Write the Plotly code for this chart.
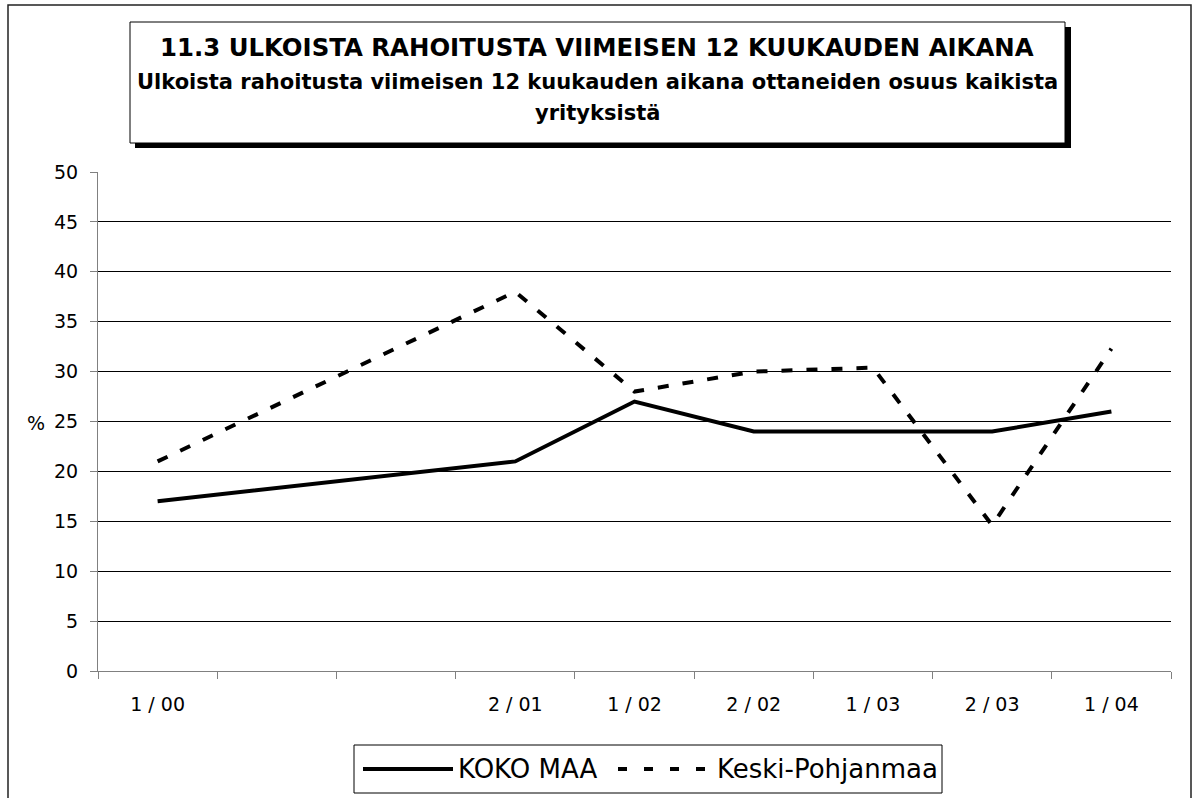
import plotly.graph_objects as go

# ---- data ----
categories = ["1 / 00", "", "", "2 / 01", "1 / 02", "2 / 02", "1 / 03", "2 / 03", "1 / 04"]
koko_maa = [17, None, None, 21, 27, 24, 24, 24, 26]
keski_pohjanmaa = [21, None, None, 38, 28, 30, 30.4, 14.6, 32.3]
series_names = ["KOKO MAA", "Keski-Pohjanmaa"]
title_lines = [
    "11.3 ULKOISTA RAHOITUSTA VIIMEISEN 12 KUUKAUDEN AIKANA",
    "Ulkoista rahoitusta viimeisen 12 kuukauden aikana ottaneiden osuus kaikista",
    "yrityksistä",
]
y_label = "%"

# ---- layout geometry (pixels) ----
W, H = 1194, 798
PL, PR, PT, PB = 98, 1171, 172, 671
FONT = "DejaVu Sans"


def px(x):
    return (x - PL) / (PR - PL)


def py(y):
    return (PB - y) / (PB - PT)


x_idx = list(range(len(categories)))

fig = go.Figure()
fig.add_trace(go.Scatter(
    x=x_idx, y=koko_maa, name=series_names[0], mode="lines",
    line=dict(color="black", width=4), connectgaps=True, showlegend=False,
))
fig.add_trace(go.Scatter(
    x=x_idx, y=keski_pohjanmaa, name=series_names[1], mode="lines",
    line=dict(color="black", width=4, dash="11px,14px"), connectgaps=True, showlegend=False,
))

shapes = []
# outer chart border
shapes.append(dict(type="rect", xref="paper", yref="paper",
                   x0=px(8), x1=px(1191), y0=py(5), y1=py(830),
                   line=dict(color="#222", width=1.5), layer="below"))
# title box shadow + box
shapes.append(dict(type="rect", xref="paper", yref="paper",
                   x0=px(135), x1=px(1071), y0=py(27), y1=py(148),
                   fillcolor="black", line=dict(color="black", width=0)))
shapes.append(dict(type="rect", xref="paper", yref="paper",
                   x0=px(130), x1=px(1065), y0=py(22), y1=py(143),
                   fillcolor="white", line=dict(color="black", width=1)))
# legend box
shapes.append(dict(type="rect", xref="paper", yref="paper",
                   x0=px(354), x1=px(942), y0=py(745), y1=py(793),
                   fillcolor="white", line=dict(color="black", width=1)))
shapes.append(dict(type="line", xref="paper", yref="paper",
                   x0=px(363), x1=px(453), y0=py(769), y1=py(769),
                   line=dict(color="black", width=4)))
shapes.append(dict(type="line", xref="paper", yref="paper",
                   x0=px(618), x1=px(705), y0=py(769), y1=py(769),
                   line=dict(color="black", width=4, dash="9px,17px")))

annotations = [
    dict(text="<b>" + title_lines[0] + "</b>", x=px(597), y=py(47),
         font=dict(size=24.4, family=FONT, color="black")),
    dict(text="<b>" + title_lines[1] + "</b>", x=px(597), y=py(82),
         font=dict(size=21, family=FONT, color="black")),
    dict(text="<b>" + title_lines[2] + "</b>", x=px(597), y=py(113),
         font=dict(size=21, family=FONT, color="black")),
    dict(text=y_label, x=px(36), y=py(423),
         font=dict(size=19, family=FONT, color="black")),
    dict(text=series_names[0], x=px(456), y=py(769), xanchor="left",
         font=dict(size=26, family=FONT, color="black")),
    dict(text=series_names[1], x=px(715), y=py(769), xanchor="left",
         font=dict(size=26, family=FONT, color="black")),
]
for a in annotations:
    a.update(xref="paper", yref="paper", showarrow=False)
    a.setdefault("xanchor", "center")
    a.setdefault("yanchor", "middle")

fig.update_layout(
    width=W, height=H,
    margin=dict(l=PL, r=W - PR, t=PT, b=H - PB, pad=0),
    paper_bgcolor="white", plot_bgcolor="white",
    font=dict(family=FONT, size=19, color="black"),
    showlegend=False,
    shapes=shapes, annotations=annotations,
    xaxis=dict(
        range=[-0.5, len(categories) - 0.5],
        tickmode="array", tickvals=x_idx, ticktext=categories,
        ticks="", showgrid=False, zeroline=False,
        showline=True, linecolor="#808080", linewidth=1,
        ticklabelstandoff=16,
        tickfont=dict(size=19, family=FONT, color="black"),
        minor=dict(tick0=-0.5, dtick=1, ticks="outside", ticklen=7,
                   tickcolor="#808080", tickwidth=1, showgrid=False),
        fixedrange=True,
    ),
    yaxis=dict(
        range=[0, 50], dtick=5, tick0=0,
        ticks="outside", ticklen=7, tickcolor="#808080",
        showgrid=True, gridcolor="black", gridwidth=1,
        zeroline=False, showline=True, linecolor="#808080", linewidth=1,
        ticklabelstandoff=8,
        tickfont=dict(size=19, family=FONT, color="black"),
        fixedrange=True,
    ),
)

fig.write_html(
    "out.html",
    config={"displayModeBar": False},
    post_script="document.body.style.margin='0';document.body.style.overflow='hidden';",
)
